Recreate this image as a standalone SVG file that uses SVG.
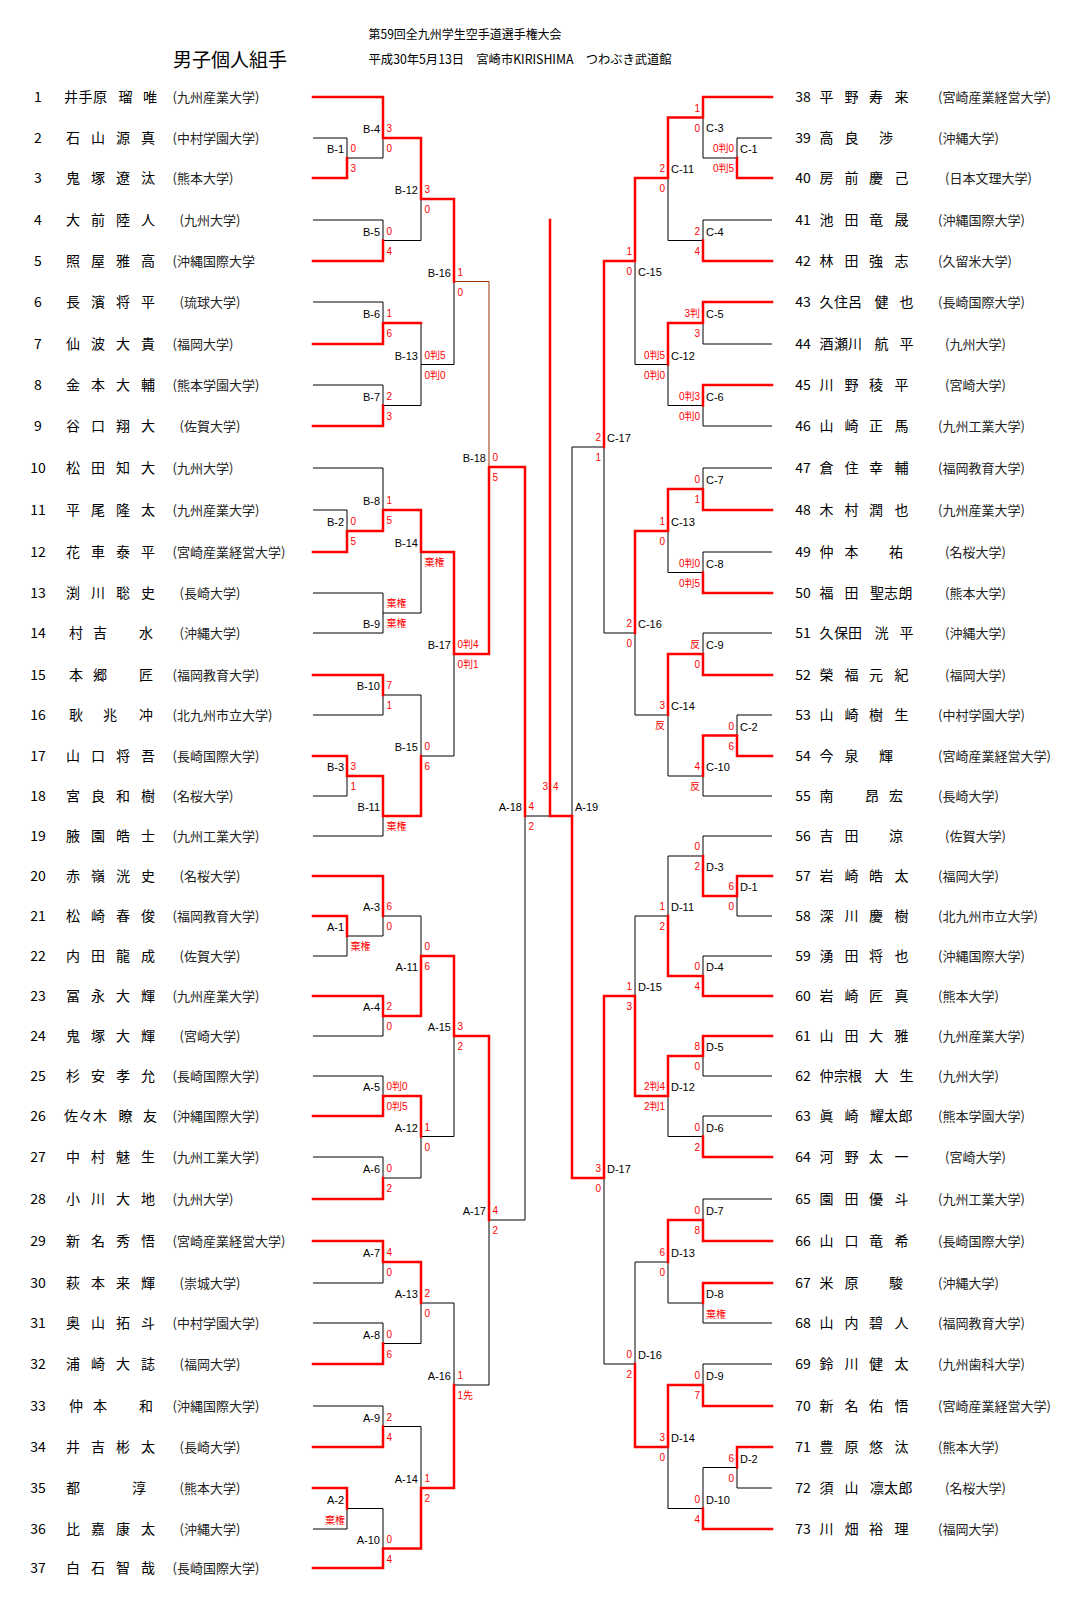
<svg xmlns="http://www.w3.org/2000/svg" width="1086" height="1618" viewBox="0 0 1086 1618">
<style>
text{font-family:'Noto Sans CJK JP','Noto Sans CJK SC',sans-serif;fill:#000}
.n{font-size:14px;text-anchor:middle}
.m{font-size:14px;text-anchor:middle}
.c{font-size:13px;fill:#222}
.lb{font-family:'Liberation Sans','Noto Sans CJK JP',sans-serif;font-size:11px}
.e{text-anchor:end}
.s{font-family:'Liberation Sans','Noto Sans CJK JP',sans-serif;font-size:10px;fill:#f00}
.se{font-family:'Liberation Sans','Noto Sans CJK JP',sans-serif;font-size:10px;fill:#f00;text-anchor:end}
.k{fill:none;stroke:#000;stroke-width:1}
.r{fill:none;stroke:#f00;stroke-width:2.5;stroke-linecap:square}
.br{fill:none;stroke:#993300;stroke-width:1}
</style>
<rect width="1086" height="1618" fill="#fff"/>
<g id="header">
<text x="173" y="67" font-size="19">男子個人組手</text>
<text x="368.6" y="38.5" font-size="12.5" textLength="193" lengthAdjust="spacingAndGlyphs">第59回全九州学生空手道選手権大会</text>
<text x="368.6" y="63.5" font-size="12.5" textLength="303" lengthAdjust="spacingAndGlyphs">平成30年5月13日　宮崎市KIRISHIMA　つわぶき武道館</text>
</g>
<g id="connectors">
<path class="k" d="M313 138H347V158M347 158H383V138M313 220H383V240.5M383 240.5H421V199M313 302H383V323M313 385H383V405.5M421 323V405.5H383M421 364.5H454V281.5M313 510H347V531M313 468H383V510M313 593H383V633H313M383 613H421V552M313 715H383V695M313 796H347V776M313 836H383V816M383 695H421V756M421 756H454V654M489 1220H525V816M313 956H347V936M347 936H383V916M313 1036H383V1016M383 916H421V956M313 1076H383V1096M313 1157H383V1178M383 1178H421V1136.5M421 1136.5H454V1036M313 1283H383V1262M313 1323H383V1343.5M383 1343.5H421V1303M313 1406H383V1426.5M313 1529H347V1508.5M347 1508.5H383V1548.5M383 1426.5H421V1488M421 1303H454V1385M454 1385H489V1220M525 816H550"/>
<path class="k" d="M772 138H737V158M737 158H703V117.5M772 220H703V240.5M703 240.5H668V178M772 344H703V323M772 426H703V405.5M703 405.5H668V364.5M668 364.5H635V261M772 468H703V489M772 552H703V572.5M703 572.5H668V531M772 633H703V654M772 715H737V735.5M772 796H703V776M703 776H668V715M668 715H635V633M635 633H604V447M572 447V816M772 916H737V896M772 836H703V856M772 956H703V976M703 856H668V916M772 1076H703V1056M772 1116H703V1136.5M703 1136.5H668V1096M668 916H635V996M772 1199H703V1220M772 1323H703V1303M703 1303H668V1262M772 1364H703V1385M772 1488H737V1467.5M737 1467.5H703V1508.5M703 1508.5H668V1447M668 1262H635V1364M635 1364H604V1178"/>
<path class="k" stroke-width="2" d="M604 447H572"/>
<path class="br" d="M454 281.5H489V467"/>
<path class="r" d="M313 178H347V158M313 97H383V138M313 261H383V240.5M383 138H421V199M313 344H383V323M313 426H383V405.5M383 323H421M421 199H454V281.5M454 654H489V467M313 552H347V531M347 531H383V510M383 510H421V552M313 675H383V695M313 756H347V776M347 776H383V816M383 816H421V756M421 552H454V654M489 467H525V816M313 916H347V936M313 876H383V916M313 996H383V1016M383 1016H421V956M313 1116H383V1096M313 1199H383V1178M383 1096H421V1136.5M421 956H454V1036M313 1241H383V1262M313 1364H383V1343.5M383 1262H421V1303M313 1447H383V1426.5M313 1488H347V1508.5M313 1568H383V1548.5M383 1548.5H421V1488M421 1488H454V1385M454 1036H489V1220M572 816H550V220"/>
<path class="r" d="M772 178H737V158M772 97H703V117.5M772 261H703V240.5M703 117.5H668V178M772 302H703V323M772 385H703V405.5M703 323H668V364.5M668 178H635V261M772 510H703V489M772 593H703V572.5M703 489H668V531M772 675H703V654M772 756H737V735.5M737 735.5H703V776M703 654H668V715M668 531H635V633M635 261H604V447M604 1178H572V816M772 876H737V896M737 896H703V856M772 996H703V976M703 976H668V916M772 1036H703V1056M772 1157H703V1136.5M703 1056H668V1096M668 1096H635V996M772 1241H703V1220M772 1283H703V1303M703 1220H668V1262M772 1406H703V1385M772 1447H737V1467.5M772 1529H703V1508.5M703 1385H668V1447M668 1447H635V1364M635 996H604V1178"/>
</g>
<g id="players-left">
<g id="p1"><text class="n" x="38" y="102">1</text><text class="m" x="71 85.5 100 125.5 150" y="102">井手原瑠唯</text><text class="c" x="172.5" y="102">(九州産業大学)</text></g>
<g id="p2"><text class="n" x="38" y="143">2</text><text class="m" x="73 98 123 148" y="143">石山源真</text><text class="c" x="172.5" y="143">(中村学園大学)</text></g>
<g id="p3"><text class="n" x="38" y="183">3</text><text class="m" x="73 98 123 148" y="183">鬼塚遼汰</text><text class="c" x="172.5" y="183">(熊本大学)</text></g>
<g id="p4"><text class="n" x="38" y="225">4</text><text class="m" x="73 98 123 148" y="225">大前陸人</text><text class="c" x="179.6" y="225">(九州大学)</text></g>
<g id="p5"><text class="n" x="38" y="266">5</text><text class="m" x="73 98 123 148" y="266">照屋雅高</text><text class="c" x="172.5" y="266">(沖縄国際大学</text></g>
<g id="p6"><text class="n" x="38" y="307">6</text><text class="m" x="73 98 123 148" y="307">長濱将平</text><text class="c" x="179.6" y="307">(琉球大学)</text></g>
<g id="p7"><text class="n" x="38" y="349">7</text><text class="m" x="73 98 123 148" y="349">仙波大貴</text><text class="c" x="172.5" y="349">(福岡大学)</text></g>
<g id="p8"><text class="n" x="38" y="390">8</text><text class="m" x="73 98 123 148" y="390">金本大輔</text><text class="c" x="172.5" y="390">(熊本学園大学)</text></g>
<g id="p9"><text class="n" x="38" y="431">9</text><text class="m" x="73 98 123 148" y="431">谷口翔大</text><text class="c" x="179.6" y="431">(佐賀大学)</text></g>
<g id="p10"><text class="n" x="38" y="473">10</text><text class="m" x="73 98 123 148" y="473">松田知大</text><text class="c" x="172.5" y="473">(九州大学)</text></g>
<g id="p11"><text class="n" x="38" y="515">11</text><text class="m" x="73 98 123 148" y="515">平尾隆太</text><text class="c" x="172.5" y="515">(九州産業大学)</text></g>
<g id="p12"><text class="n" x="38" y="557">12</text><text class="m" x="73 98 123 148" y="557">花車泰平</text><text class="c" x="172.5" y="557">(宮崎産業経営大学)</text></g>
<g id="p13"><text class="n" x="38" y="598">13</text><text class="m" x="73 98 123 148" y="598">渕川聡史</text><text class="c" x="179.6" y="598">(長崎大学)</text></g>
<g id="p14"><text class="n" x="38" y="638">14</text><text class="m" x="76 100 146" y="638">村吉水</text><text class="c" x="179.6" y="638">(沖縄大学)</text></g>
<g id="p15"><text class="n" x="38" y="680">15</text><text class="m" x="76 100 146" y="680">本郷匠</text><text class="c" x="172.5" y="680">(福岡教育大学)</text></g>
<g id="p16"><text class="n" x="38" y="720">16</text><text class="m" x="76 110 146" y="720">耿兆冲</text><text class="c" x="172.5" y="720">(北九州市立大学)</text></g>
<g id="p17"><text class="n" x="38" y="761">17</text><text class="m" x="73 98 123 148" y="761">山口将吾</text><text class="c" x="172.5" y="761">(長崎国際大学)</text></g>
<g id="p18"><text class="n" x="38" y="801">18</text><text class="m" x="73 98 123 148" y="801">宮良和樹</text><text class="c" x="172.5" y="801">(名桜大学)</text></g>
<g id="p19"><text class="n" x="38" y="841">19</text><text class="m" x="73 98 123 148" y="841">腋園皓士</text><text class="c" x="172.5" y="841">(九州工業大学)</text></g>
<g id="p20"><text class="n" x="38" y="881">20</text><text class="m" x="73 98 123 148" y="881">赤嶺洸史</text><text class="c" x="179.6" y="881">(名桜大学)</text></g>
<g id="p21"><text class="n" x="38" y="921">21</text><text class="m" x="73 98 123 148" y="921">松崎春俊</text><text class="c" x="172.5" y="921">(福岡教育大学)</text></g>
<g id="p22"><text class="n" x="38" y="961">22</text><text class="m" x="73 98 123 148" y="961">内田龍成</text><text class="c" x="179.6" y="961">(佐賀大学)</text></g>
<g id="p23"><text class="n" x="38" y="1001">23</text><text class="m" x="73 98 123 148" y="1001">冨永大輝</text><text class="c" x="172.5" y="1001">(九州産業大学)</text></g>
<g id="p24"><text class="n" x="38" y="1041">24</text><text class="m" x="73 98 123 148" y="1041">鬼塚大輝</text><text class="c" x="179.6" y="1041">(宮崎大学)</text></g>
<g id="p25"><text class="n" x="38" y="1081">25</text><text class="m" x="73 98 123 148" y="1081">杉安孝允</text><text class="c" x="172.5" y="1081">(長崎国際大学)</text></g>
<g id="p26"><text class="n" x="38" y="1121">26</text><text class="m" x="71 85.5 100 125.5 150" y="1121">佐々木瞭友</text><text class="c" x="172.5" y="1121">(沖縄国際大学)</text></g>
<g id="p27"><text class="n" x="38" y="1162">27</text><text class="m" x="73 98 123 148" y="1162">中村魅生</text><text class="c" x="172.5" y="1162">(九州工業大学)</text></g>
<g id="p28"><text class="n" x="38" y="1204">28</text><text class="m" x="73 98 123 148" y="1204">小川大地</text><text class="c" x="172.5" y="1204">(九州大学)</text></g>
<g id="p29"><text class="n" x="38" y="1246">29</text><text class="m" x="73 98 123 148" y="1246">新名秀悟</text><text class="c" x="172.5" y="1246">(宮崎産業経営大学)</text></g>
<g id="p30"><text class="n" x="38" y="1288">30</text><text class="m" x="73 98 123 148" y="1288">萩本来輝</text><text class="c" x="179.6" y="1288">(崇城大学)</text></g>
<g id="p31"><text class="n" x="38" y="1328">31</text><text class="m" x="73 98 123 148" y="1328">奥山拓斗</text><text class="c" x="172.5" y="1328">(中村学園大学)</text></g>
<g id="p32"><text class="n" x="38" y="1369">32</text><text class="m" x="73 98 123 148" y="1369">浦崎大誌</text><text class="c" x="179.6" y="1369">(福岡大学)</text></g>
<g id="p33"><text class="n" x="38" y="1411">33</text><text class="m" x="76 100 146" y="1411">仲本和</text><text class="c" x="172.5" y="1411">(沖縄国際大学)</text></g>
<g id="p34"><text class="n" x="38" y="1452">34</text><text class="m" x="73 98 123 148" y="1452">井吉彬太</text><text class="c" x="179.6" y="1452">(長崎大学)</text></g>
<g id="p35"><text class="n" x="38" y="1493">35</text><text class="m" x="73 139" y="1493">都淳</text><text class="c" x="179.6" y="1493">(熊本大学)</text></g>
<g id="p36"><text class="n" x="38" y="1534">36</text><text class="m" x="73 98 123 148" y="1534">比嘉康太</text><text class="c" x="179.6" y="1534">(沖縄大学)</text></g>
<g id="p37"><text class="n" x="38" y="1573">37</text><text class="m" x="73 98 123 148" y="1573">白石智哉</text><text class="c" x="172.5" y="1573">(長崎国際大学)</text></g>
</g>
<g id="players-right">
<g id="p38"><text class="n" x="803" y="102">38</text><text class="m" x="826.5 851.5 876 901.5" y="102">平野寿来</text><text class="c" x="938" y="102">(宮崎産業経営大学)</text></g>
<g id="p39"><text class="n" x="803" y="143">39</text><text class="m" x="826.5 851.5 886" y="143">高良渉</text><text class="c" x="938" y="143">(沖縄大学)</text></g>
<g id="p40"><text class="n" x="803" y="183">40</text><text class="m" x="826.5 851.5 876 901.5" y="183">房前慶己</text><text class="c" x="945" y="183">(日本文理大学)</text></g>
<g id="p41"><text class="n" x="803" y="225">41</text><text class="m" x="826.5 851.5 876 901.5" y="225">池田竜晟</text><text class="c" x="938" y="225">(沖縄国際大学)</text></g>
<g id="p42"><text class="n" x="803" y="266">42</text><text class="m" x="826.5 851.5 876 901.5" y="266">林田強志</text><text class="c" x="938" y="266">(久留米大学)</text></g>
<g id="p43"><text class="n" x="803" y="307">43</text><text class="m" x="826.5 841 855 881.5 906.5" y="307">久住呂健也</text><text class="c" x="938" y="307">(長崎国際大学)</text></g>
<g id="p44"><text class="n" x="803" y="349">44</text><text class="m" x="826.5 841 855 881.5 906.5" y="349">酒瀬川航平</text><text class="c" x="945" y="349">(九州大学)</text></g>
<g id="p45"><text class="n" x="803" y="390">45</text><text class="m" x="826.5 851.5 876 901.5" y="390">川野稜平</text><text class="c" x="945" y="390">(宮崎大学)</text></g>
<g id="p46"><text class="n" x="803" y="431">46</text><text class="m" x="826.5 851.5 876 901.5" y="431">山崎正馬</text><text class="c" x="938" y="431">(九州工業大学)</text></g>
<g id="p47"><text class="n" x="803" y="473">47</text><text class="m" x="826.5 851.5 876 901.5" y="473">倉住幸輔</text><text class="c" x="938" y="473">(福岡教育大学)</text></g>
<g id="p48"><text class="n" x="803" y="515">48</text><text class="m" x="826.5 851.5 876 901.5" y="515">木村潤也</text><text class="c" x="938" y="515">(九州産業大学)</text></g>
<g id="p49"><text class="n" x="803" y="557">49</text><text class="m" x="826.5 851.5 896" y="557">仲本祐</text><text class="c" x="945" y="557">(名桜大学)</text></g>
<g id="p50"><text class="n" x="803" y="598">50</text><text class="m" x="826.5 851.5 877 891 905.5" y="598">福田聖志朗</text><text class="c" x="945" y="598">(熊本大学)</text></g>
<g id="p51"><text class="n" x="803" y="638">51</text><text class="m" x="826.5 841 855 881.5 906.5" y="638">久保田洸平</text><text class="c" x="945" y="638">(沖縄大学)</text></g>
<g id="p52"><text class="n" x="803" y="680">52</text><text class="m" x="826.5 851.5 876 901.5" y="680">榮福元紀</text><text class="c" x="945" y="680">(福岡大学)</text></g>
<g id="p53"><text class="n" x="803" y="720">53</text><text class="m" x="826.5 851.5 876 901.5" y="720">山崎樹生</text><text class="c" x="938" y="720">(中村学園大学)</text></g>
<g id="p54"><text class="n" x="803" y="761">54</text><text class="m" x="826.5 851.5 886" y="761">今泉輝</text><text class="c" x="938" y="761">(宮崎産業経営大学)</text></g>
<g id="p55"><text class="n" x="803" y="801">55</text><text class="m" x="826.5 872 896" y="801">南昂宏</text><text class="c" x="938" y="801">(長崎大学)</text></g>
<g id="p56"><text class="n" x="803" y="841">56</text><text class="m" x="826.5 851.5 896" y="841">吉田涼</text><text class="c" x="945" y="841">(佐賀大学)</text></g>
<g id="p57"><text class="n" x="803" y="881">57</text><text class="m" x="826.5 851.5 876 901.5" y="881">岩崎皓太</text><text class="c" x="938" y="881">(福岡大学)</text></g>
<g id="p58"><text class="n" x="803" y="921">58</text><text class="m" x="826.5 851.5 876 901.5" y="921">深川慶樹</text><text class="c" x="938" y="921">(北九州市立大学)</text></g>
<g id="p59"><text class="n" x="803" y="961">59</text><text class="m" x="826.5 851.5 876 901.5" y="961">湧田将也</text><text class="c" x="938" y="961">(沖縄国際大学)</text></g>
<g id="p60"><text class="n" x="803" y="1001">60</text><text class="m" x="826.5 851.5 876 901.5" y="1001">岩崎匠真</text><text class="c" x="938" y="1001">(熊本大学)</text></g>
<g id="p61"><text class="n" x="803" y="1041">61</text><text class="m" x="826.5 851.5 876 901.5" y="1041">山田大雅</text><text class="c" x="938" y="1041">(九州産業大学)</text></g>
<g id="p62"><text class="n" x="803" y="1081">62</text><text class="m" x="826.5 841 855 881.5 906.5" y="1081">仲宗根大生</text><text class="c" x="938" y="1081">(九州大学)</text></g>
<g id="p63"><text class="n" x="803" y="1121">63</text><text class="m" x="826.5 851.5 877 891 905.5" y="1121">眞崎耀太郎</text><text class="c" x="938" y="1121">(熊本学園大学)</text></g>
<g id="p64"><text class="n" x="803" y="1162">64</text><text class="m" x="826.5 851.5 876 901.5" y="1162">河野太一</text><text class="c" x="945" y="1162">(宮崎大学)</text></g>
<g id="p65"><text class="n" x="803" y="1204">65</text><text class="m" x="826.5 851.5 876 901.5" y="1204">園田優斗</text><text class="c" x="938" y="1204">(九州工業大学)</text></g>
<g id="p66"><text class="n" x="803" y="1246">66</text><text class="m" x="826.5 851.5 876 901.5" y="1246">山口竜希</text><text class="c" x="938" y="1246">(長崎国際大学)</text></g>
<g id="p67"><text class="n" x="803" y="1288">67</text><text class="m" x="826.5 851.5 896" y="1288">米原駿</text><text class="c" x="938" y="1288">(沖縄大学)</text></g>
<g id="p68"><text class="n" x="803" y="1328">68</text><text class="m" x="826.5 851.5 876 901.5" y="1328">山内碧人</text><text class="c" x="938" y="1328">(福岡教育大学)</text></g>
<g id="p69"><text class="n" x="803" y="1369">69</text><text class="m" x="826.5 851.5 876 901.5" y="1369">鈴川健太</text><text class="c" x="938" y="1369">(九州歯科大学)</text></g>
<g id="p70"><text class="n" x="803" y="1411">70</text><text class="m" x="826.5 851.5 876 901.5" y="1411">新名佑悟</text><text class="c" x="938" y="1411">(宮崎産業経営大学)</text></g>
<g id="p71"><text class="n" x="803" y="1452">71</text><text class="m" x="826.5 851.5 876 901.5" y="1452">豊原悠汰</text><text class="c" x="938" y="1452">(熊本大学)</text></g>
<g id="p72"><text class="n" x="803" y="1493">72</text><text class="m" x="826.5 851.5 877 891 905.5" y="1493">須山凛太郎</text><text class="c" x="945" y="1493">(名桜大学)</text></g>
<g id="p73"><text class="n" x="803" y="1534">73</text><text class="m" x="826.5 851.5 876 901.5" y="1534">川畑裕理</text><text class="c" x="938" y="1534">(福岡大学)</text></g>
</g>
<g id="matches-left">
<g id="m-B-1"><text class="lb e" x="344" y="153">B-1</text><text class="s" x="350.5" y="152">0</text><text class="s" x="350.5" y="172">3</text></g>
<g id="m-B-4"><text class="lb e" x="380" y="133">B-4</text><text class="s" x="386.5" y="132">3</text><text class="s" x="386.5" y="152">0</text></g>
<g id="m-B-5"><text class="lb e" x="380" y="235.5">B-5</text><text class="s" x="386.5" y="234.5">0</text><text class="s" x="386.5" y="254.5">4</text></g>
<g id="m-B-12"><text class="lb e" x="418" y="194">B-12</text><text class="s" x="424.5" y="193">3</text><text class="s" x="424.5" y="213">0</text></g>
<g id="m-B-6"><text class="lb e" x="380" y="318">B-6</text><text class="s" x="386.5" y="317">1</text><text class="s" x="386.5" y="337">6</text></g>
<g id="m-B-7"><text class="lb e" x="380" y="400.5">B-7</text><text class="s" x="386.5" y="399.5">2</text><text class="s" x="386.5" y="419.5">3</text></g>
<g id="m-B-13"><text class="lb e" x="418" y="359.5">B-13</text><text class="s" x="424.5" y="358.5">0判5</text><text class="s" x="424.5" y="378.5">0判0</text></g>
<g id="m-B-16"><text class="lb e" x="451" y="276.5">B-16</text><text class="s" x="457.5" y="275.5">1</text><text class="s" x="457.5" y="295.5">0</text></g>
<g id="m-B-18"><text class="lb e" x="486" y="462">B-18</text><text class="s" x="492.5" y="461">0</text><text class="s" x="492.5" y="481">5</text></g>
<g id="m-B-2"><text class="lb e" x="344" y="526">B-2</text><text class="s" x="350.5" y="525">0</text><text class="s" x="350.5" y="545">5</text></g>
<g id="m-B-8"><text class="lb e" x="380" y="505">B-8</text><text class="s" x="386.5" y="504">1</text><text class="s" x="386.5" y="524">5</text></g>
<g id="m-B-9"><text class="lb e" x="380" y="627.5">B-9</text><text class="s" x="386.5" y="607">棄権</text><text class="s" x="386.5" y="627">棄権</text></g>
<g id="m-B-14"><text class="lb e" x="418" y="547">B-14</text><text class="s" x="424.5" y="566">棄権</text></g>
<g id="m-B-17"><text class="lb e" x="451" y="649">B-17</text><text class="s" x="457.5" y="648">0判4</text><text class="s" x="457.5" y="668">0判1</text></g>
<g id="m-B-10"><text class="lb e" x="380" y="690">B-10</text><text class="s" x="386.5" y="689">7</text><text class="s" x="386.5" y="709">1</text></g>
<g id="m-B-3"><text class="lb e" x="344" y="771">B-3</text><text class="s" x="350.5" y="770">3</text><text class="s" x="350.5" y="790">1</text></g>
<g id="m-B-11"><text class="lb e" x="380" y="811">B-11</text><text class="s" x="386.5" y="830">棄権</text></g>
<g id="m-B-15"><text class="lb e" x="418" y="751">B-15</text><text class="s" x="424.5" y="750">0</text><text class="s" x="424.5" y="770">6</text></g>
<g id="m-A-18"><text class="lb e" x="522" y="811">A-18</text><text class="s" x="528.5" y="810">4</text><text class="s" x="528.5" y="830">2</text></g>
<g id="m-A-3"><text class="lb e" x="380" y="911">A-3</text><text class="s" x="386.5" y="910">6</text><text class="s" x="386.5" y="930">0</text></g>
<g id="m-A-1"><text class="lb e" x="344" y="931">A-1</text><text class="s" x="350.5" y="950">棄権</text></g>
<g id="m-A-11"><text class="lb e" x="418" y="970.5">A-11</text><text class="s" x="424.5" y="950">0</text><text class="s" x="424.5" y="970">6</text></g>
<g id="m-A-4"><text class="lb e" x="380" y="1011">A-4</text><text class="s" x="386.5" y="1010">2</text><text class="s" x="386.5" y="1030">0</text></g>
<g id="m-A-15"><text class="lb e" x="451" y="1031">A-15</text><text class="s" x="457.5" y="1030">3</text><text class="s" x="457.5" y="1050">2</text></g>
<g id="m-A-5"><text class="lb e" x="380" y="1091">A-5</text><text class="s" x="386.5" y="1090">0判0</text><text class="s" x="386.5" y="1110">0判5</text></g>
<g id="m-A-12"><text class="lb e" x="418" y="1131.5">A-12</text><text class="s" x="424.5" y="1130.5">1</text><text class="s" x="424.5" y="1150.5">0</text></g>
<g id="m-A-6"><text class="lb e" x="380" y="1173">A-6</text><text class="s" x="386.5" y="1172">0</text><text class="s" x="386.5" y="1192">2</text></g>
<g id="m-A-17"><text class="lb e" x="486" y="1215">A-17</text><text class="s" x="492.5" y="1214">4</text><text class="s" x="492.5" y="1234">2</text></g>
<g id="m-A-7"><text class="lb e" x="380" y="1257">A-7</text><text class="s" x="386.5" y="1256">4</text><text class="s" x="386.5" y="1276">0</text></g>
<g id="m-A-13"><text class="lb e" x="418" y="1298">A-13</text><text class="s" x="424.5" y="1297">2</text><text class="s" x="424.5" y="1317">0</text></g>
<g id="m-A-8"><text class="lb e" x="380" y="1338.5">A-8</text><text class="s" x="386.5" y="1337.5">0</text><text class="s" x="386.5" y="1357.5">6</text></g>
<g id="m-A-16"><text class="lb e" x="451" y="1380">A-16</text><text class="s" x="457.5" y="1379">1</text><text class="s" x="457.5" y="1399">1先</text></g>
<g id="m-A-9"><text class="lb e" x="380" y="1421.5">A-9</text><text class="s" x="386.5" y="1420.5">2</text><text class="s" x="386.5" y="1440.5">4</text></g>
<g id="m-A-14"><text class="lb e" x="418" y="1483">A-14</text><text class="s" x="424.5" y="1482">1</text><text class="s" x="424.5" y="1502">2</text></g>
<g id="m-A-2"><text class="lb e" x="344" y="1503.5">A-2</text><text class="se" x="345" y="1524" font-size="11">棄権</text></g>
<g id="m-A-10"><text class="lb e" x="380" y="1543.5">A-10</text><text class="s" x="386.5" y="1542.5">0</text><text class="s" x="386.5" y="1562.5">4</text></g>
</g>
<g id="m-final"><text class="se" x="548" y="790">3</text><text class="s" x="553" y="790">4</text></g>
<g id="matches-right">
<g id="m-C-1"><text class="lb" x="740" y="153">C-1</text><text class="se" x="734" y="152">0判0</text><text class="se" x="734" y="172">0判5</text></g>
<g id="m-C-3"><text class="lb" x="706" y="132">C-3</text><text class="se" x="700" y="111.5">1</text><text class="se" x="700" y="131.5">0</text></g>
<g id="m-C-4"><text class="lb" x="706" y="235.5">C-4</text><text class="se" x="700" y="234.5">2</text><text class="se" x="700" y="254.5">4</text></g>
<g id="m-C-11"><text class="lb" x="671" y="173">C-11</text><text class="se" x="665" y="172">2</text><text class="se" x="665" y="192">0</text></g>
<g id="m-C-5"><text class="lb" x="706" y="318">C-5</text><text class="se" x="700" y="317">3判</text><text class="se" x="700" y="337">3</text></g>
<g id="m-C-6"><text class="lb" x="706" y="400.5">C-6</text><text class="se" x="700" y="399.5">0判3</text><text class="se" x="700" y="419.5">0判0</text></g>
<g id="m-C-12"><text class="lb" x="671" y="359.5">C-12</text><text class="se" x="665" y="358.5">0判5</text><text class="se" x="665" y="378.5">0判0</text></g>
<g id="m-C-15"><text class="lb" x="638" y="275.5">C-15</text><text class="se" x="632" y="255">1</text><text class="se" x="632" y="275">0</text></g>
<g id="m-C-7"><text class="lb" x="706" y="484">C-7</text><text class="se" x="700" y="483">0</text><text class="se" x="700" y="503">1</text></g>
<g id="m-C-8"><text class="lb" x="706" y="567.5">C-8</text><text class="se" x="700" y="566.5">0判0</text><text class="se" x="700" y="586.5">0判5</text></g>
<g id="m-C-13"><text class="lb" x="671" y="526">C-13</text><text class="se" x="665" y="525">1</text><text class="se" x="665" y="545">0</text></g>
<g id="m-C-9"><text class="lb" x="706" y="649">C-9</text><text class="se" x="700" y="648">反</text><text class="se" x="700" y="668">0</text></g>
<g id="m-C-2"><text class="lb" x="740" y="730.5">C-2</text><text class="se" x="734" y="729.5">0</text><text class="se" x="734" y="749.5">6</text></g>
<g id="m-C-10"><text class="lb" x="706" y="771">C-10</text><text class="se" x="700" y="770">4</text><text class="se" x="700" y="790">反</text></g>
<g id="m-C-14"><text class="lb" x="671" y="710">C-14</text><text class="se" x="665" y="709">3</text><text class="se" x="665" y="729">反</text></g>
<g id="m-C-16"><text class="lb" x="638" y="628">C-16</text><text class="se" x="632" y="627">2</text><text class="se" x="632" y="647">0</text></g>
<g id="m-C-17"><text class="lb" x="607" y="442">C-17</text><text class="se" x="601" y="441">2</text><text class="se" x="601" y="461">1</text></g>
<g id="m-A-19"><text class="lb" x="575" y="811">A-19</text></g>
<g id="m-D-1"><text class="lb" x="740" y="891">D-1</text><text class="se" x="734" y="890">6</text><text class="se" x="734" y="910">0</text></g>
<g id="m-D-3"><text class="lb" x="706" y="870.5">D-3</text><text class="se" x="700" y="850">0</text><text class="se" x="700" y="870">2</text></g>
<g id="m-D-4"><text class="lb" x="706" y="971">D-4</text><text class="se" x="700" y="970">0</text><text class="se" x="700" y="990">4</text></g>
<g id="m-D-11"><text class="lb" x="671" y="911">D-11</text><text class="se" x="665" y="910">1</text><text class="se" x="665" y="930">2</text></g>
<g id="m-D-5"><text class="lb" x="706" y="1051">D-5</text><text class="se" x="700" y="1050">8</text><text class="se" x="700" y="1070">0</text></g>
<g id="m-D-6"><text class="lb" x="706" y="1131.5">D-6</text><text class="se" x="700" y="1130.5">0</text><text class="se" x="700" y="1150.5">2</text></g>
<g id="m-D-12"><text class="lb" x="671" y="1091">D-12</text><text class="se" x="665" y="1090">2判4</text><text class="se" x="665" y="1110">2判1</text></g>
<g id="m-D-15"><text class="lb" x="638" y="991">D-15</text><text class="se" x="632" y="990">1</text><text class="se" x="632" y="1010">3</text></g>
<g id="m-D-7"><text class="lb" x="706" y="1215">D-7</text><text class="se" x="700" y="1214">0</text><text class="se" x="700" y="1234">8</text></g>
<g id="m-D-8"><text class="lb" x="706" y="1298">D-8</text><text class="s" x="706" y="1318" font-size="11">棄権</text></g>
<g id="m-D-13"><text class="lb" x="671" y="1257">D-13</text><text class="se" x="665" y="1256">6</text><text class="se" x="665" y="1276">0</text></g>
<g id="m-D-9"><text class="lb" x="706" y="1380">D-9</text><text class="se" x="700" y="1379">0</text><text class="se" x="700" y="1399">7</text></g>
<g id="m-D-2"><text class="lb" x="740" y="1462.5">D-2</text><text class="se" x="734" y="1461.5">6</text><text class="se" x="734" y="1481.5">0</text></g>
<g id="m-D-10"><text class="lb" x="706" y="1503.5">D-10</text><text class="se" x="700" y="1502.5">0</text><text class="se" x="700" y="1522.5">4</text></g>
<g id="m-D-14"><text class="lb" x="671" y="1442">D-14</text><text class="se" x="665" y="1441">3</text><text class="se" x="665" y="1461">0</text></g>
<g id="m-D-16"><text class="lb" x="638" y="1359">D-16</text><text class="se" x="632" y="1358">0</text><text class="se" x="632" y="1378">2</text></g>
<g id="m-D-17"><text class="lb" x="607" y="1173">D-17</text><text class="se" x="601" y="1172">3</text><text class="se" x="601" y="1192">0</text></g>
</g>
</svg>
